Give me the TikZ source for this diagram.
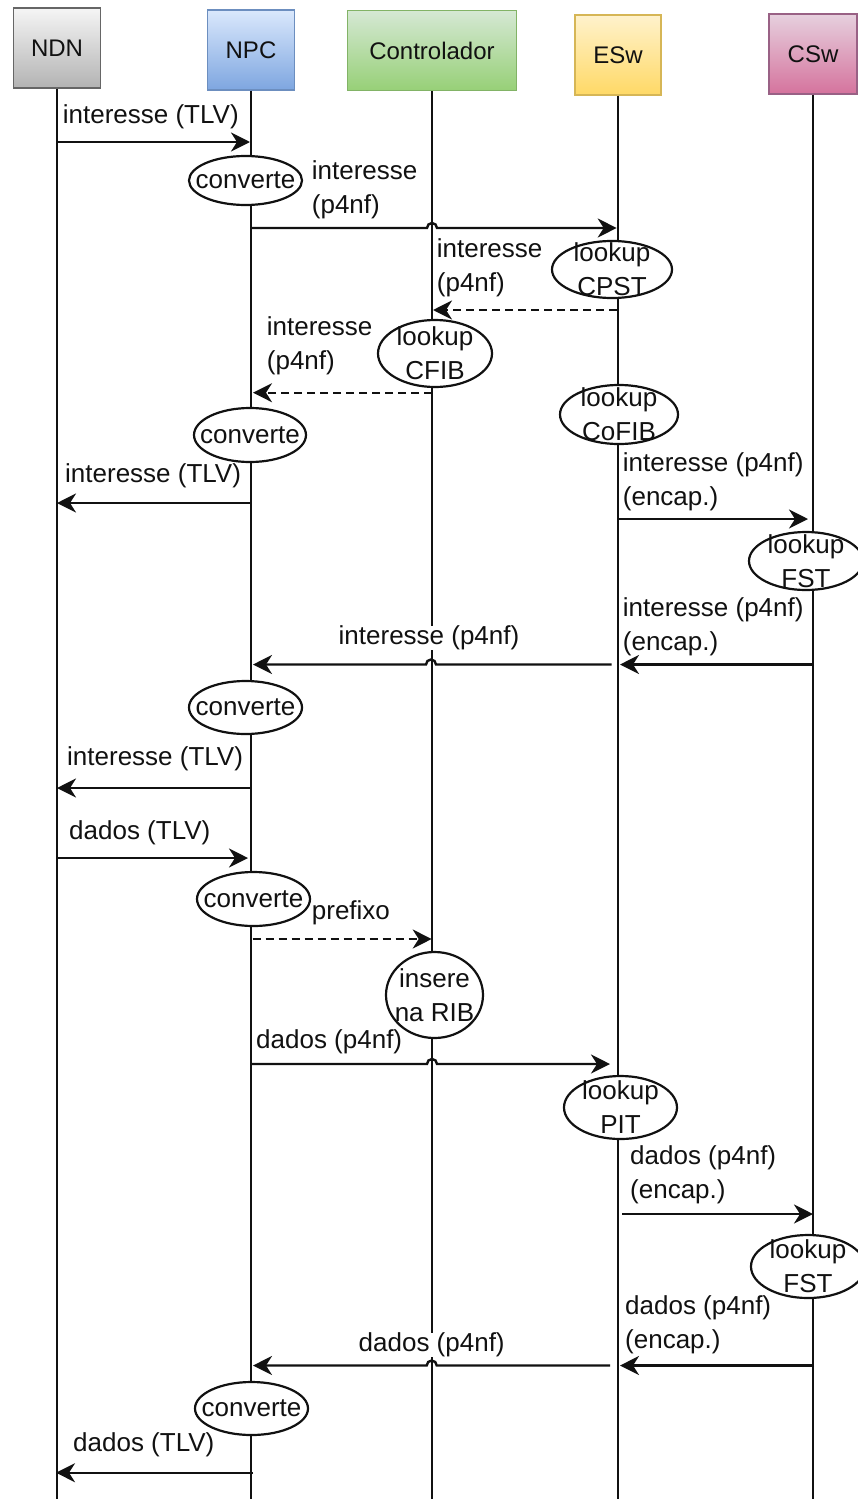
\documentclass[tikz,border=0pt]{standalone}
\usepackage{fontspec}
\setmainfont{Liberation Sans}
\usetikzlibrary{arrows.meta,shapes.geometric}

\definecolor{ink}{HTML}{111111}
\definecolor{grayTop}{HTML}{F5F5F5}\definecolor{grayBot}{HTML}{B3B3B3}\definecolor{grayLine}{HTML}{666666}
\definecolor{blueTop}{HTML}{DAE8FC}\definecolor{blueBot}{HTML}{7EA6E0}\definecolor{blueLine}{HTML}{6C8EBF}
\definecolor{greenTop}{HTML}{D5E8D4}\definecolor{greenBot}{HTML}{97D077}\definecolor{greenLine}{HTML}{82B366}
\definecolor{yellowTop}{HTML}{FFF2CC}\definecolor{yellowBot}{HTML}{FFD966}\definecolor{yellowLine}{HTML}{D6B656}
\definecolor{pinkTop}{HTML}{E6D0DE}\definecolor{pinkBot}{HTML}{D5739D}\definecolor{pinkLine}{HTML}{996185}

\newcommand\msgfont{\fontsize{26}{34}\selectfont}
\newcommand\hdrfont{\fontsize{24}{29}\selectfont}

\begin{document}
\begin{tikzpicture}[x=1pt,y=1pt,
  hdr/.style={draw, line width=1.2pt, minimum height=80pt, inner sep=0pt, font=\hdrfont, text=ink},
  life/.style={line width=2.4pt, draw=ink},
  msg/.style={line width=2.4pt, draw=ink, -{Stealth[length=19pt,width=19pt,inset=6pt]}},
  async/.style={msg, dash pattern=on 8pt off 5pt},
  lbl/.style={font=\msgfont, text=ink, inner sep=0pt, align=left, anchor=west},
  midlbl/.style={font=\msgfont, text=ink, inner sep=0pt, fill=white},
  act/.style={ellipse, draw=ink, line width=2.2pt, fill=white, inner sep=0pt},
  actlbl/.style={font=\msgfont, text=ink, align=center, inner sep=0pt}
]
\useasboundingbox (0,0) rectangle (857,-1499);

% participants
\node[hdr, minimum width=87pt, top color=grayTop, bottom color=grayBot, draw=grayLine] (ndn) at (57,-48) {NDN};
\node[hdr, minimum width=87pt, top color=blueTop, bottom color=blueBot, draw=blueLine] (npc) at (251,-50) {NPC};
\node[hdr, minimum width=169pt, top color=greenTop, bottom color=greenBot, draw=greenLine] (ctl) at (432,-50.5) {Controlador};
\node[hdr, minimum width=86pt, top color=yellowTop, bottom color=yellowBot, draw=yellowLine] (esw) at (618,-55) {ESw};
\node[hdr, minimum width=88pt, top color=pinkTop, bottom color=pinkBot, draw=pinkLine] (csw) at (813,-54) {CSw};

% lifelines
\coordinate (bot) at (0,-1499);
\foreach \p in {ndn,npc,ctl,esw,csw}
  \draw[life] (\p.south) -- (\p.south |- bot);

% interest path
\coordinate (m1a) at (57,-142);    \coordinate (m1b) at (250,-142);
\draw[msg] (m1a) -- (m1b);
\coordinate (m3a) at (251.7,-228); \coordinate (m3b) at (616.7,-228);
\draw[msg] (m3a) -- (427,-228) arc (180:0:5) -- (m3b);
\coordinate (m5a) at (616.7,-310); \coordinate (m5b) at (433,-310);
\draw[async] (m5a) -- (m5b);
\coordinate (m7a) at (432,-392.7); \coordinate (m7b) at (253,-392.7);
\draw[async] (m7a) -- (m7b);
\coordinate (m9a) at (250,-503);   \coordinate (m9b) at (57,-503);
\draw[msg] (m9a) -- (m9b);
\coordinate (m10a) at (618,-519);  \coordinate (m10b) at (808,-519);
\draw[msg] (m10a) -- (m10b);
\coordinate (m12a) at (814,-664.5); \coordinate (m12b) at (620,-664.5);
\draw[msg] (m12a) -- (m12b);
\coordinate (m13a) at (611.7,-664.5); \coordinate (m13b) at (253,-664.5);
\draw[msg] (m13a) -- (436,-664.5) arc (0:180:5) -- (m13b);
\coordinate (m15a) at (251,-788);  \coordinate (m15b) at (57,-788);
\draw[msg] (m15a) -- (m15b);

% data path
\coordinate (m16a) at (57,-858);   \coordinate (m16b) at (248,-858);
\draw[msg] (m16a) -- (m16b);
\coordinate (m18a) at (252.7,-939); \coordinate (m18b) at (431.7,-939);
\draw[async] (m18a) -- (m18b);
\coordinate (m20a) at (252,-1064); \coordinate (m20b) at (610,-1064);
\draw[msg] (m20a) -- (427,-1064) arc (180:0:5) -- (m20b);
\coordinate (m22a) at (622,-1214); \coordinate (m22b) at (813,-1214);
\draw[msg] (m22a) -- (m22b);
\coordinate (m24a) at (814,-1365.5); \coordinate (m24b) at (620,-1365.5);
\draw[msg] (m24a) -- (m24b);
\coordinate (m25a) at (610,-1365.5); \coordinate (m25b) at (253,-1365.5);
\draw[msg] (m25a) -- (436.7,-1365.5) arc (0:180:5) -- (m25b);
\coordinate (m27a) at (253,-1472.7); \coordinate (m27b) at (56,-1472.7);
\draw[msg] (m27a) -- (m27b);

% message labels
\node[lbl] (l1) at (62.7,-117) {interesse (TLV)};
\node[lbl] (l2) at (311.7,-190) {interesse\\(p4nf)};
\node[lbl] (l4) at (436.7,-267.5) {interesse\\(p4nf)};
\node[lbl] (l6) at (266.7,-346) {interesse\\(p4nf)};
\node[lbl] (l9) at (65,-476) {interesse (TLV)};
\node[lbl] (l10) at (622.7,-481.5) {interesse (p4nf)\\(encap.)};
\node[lbl] (l12) at (622.7,-627) {interesse (p4nf)\\(encap.)};
\node[midlbl] (l13) at (429,-638) {interesse (p4nf)};
\node[lbl] (l15) at (67,-759) {interesse (TLV)};
\node[lbl] (l16) at (69,-833) {dados (TLV)};
\node[lbl] (l18) at (311.7,-913) {prefixo};
\node[lbl] (l20) at (256,-1042) {dados (p4nf)};
\node[lbl] (l22) at (630,-1175) {dados (p4nf)\\(encap.)};
\node[lbl] (l24) at (625,-1324.5) {dados (p4nf)\\(encap.)};
\node[midlbl] (l25) at (431.7,-1345) {dados (p4nf)};
\node[lbl] (l27) at (73,-1445) {dados (TLV)};

% processing steps
\node[act, minimum width=113pt, minimum height=49pt, label={[actlbl]center:converte}] (cv1) at (245.5,-180.5) {};
\node[act, minimum width=120pt, minimum height=57pt, label={[actlbl]center:lookup\\CPST}] (cpst) at (612,-269.5) {};
\node[act, minimum width=114pt, minimum height=67pt, label={[actlbl]center:lookup\\CFIB}] (cfib) at (435,-353.5) {};
\node[act, minimum width=118pt, minimum height=59pt, label={[actlbl]center:lookup\\CoFIB}] (cofib) at (619,-414.5) {};
\node[act, minimum width=112pt, minimum height=54pt, label={[actlbl]center:converte}] (cv2) at (250,-435) {};
\node[act, minimum width=114pt, minimum height=58pt, label={[actlbl]center:lookup\\FST}] (fst1) at (806,-561) {};
\node[act, minimum width=113pt, minimum height=53pt, label={[actlbl]center:converte}] (cv3) at (245.5,-707.5) {};
\node[act, minimum width=113pt, minimum height=54pt, label={[actlbl]center:converte}] (cv4) at (253.5,-899) {};
\node[act, minimum width=97pt, minimum height=86pt, label={[actlbl]center:insere\\na RIB}] (rib) at (434.5,-995) {};
\node[act, minimum width=113pt, minimum height=63pt, label={[actlbl]center:lookup\\PIT}] (pit) at (620.5,-1107.5) {};
\node[act, minimum width=114pt, minimum height=63pt, label={[actlbl]center:lookup\\FST}] (fst2) at (808,-1266.5) {};
\node[act, minimum width=113pt, minimum height=53pt, label={[actlbl]center:converte}] (cv5) at (251.5,-1408.5) {};
\end{tikzpicture}
\end{document}
